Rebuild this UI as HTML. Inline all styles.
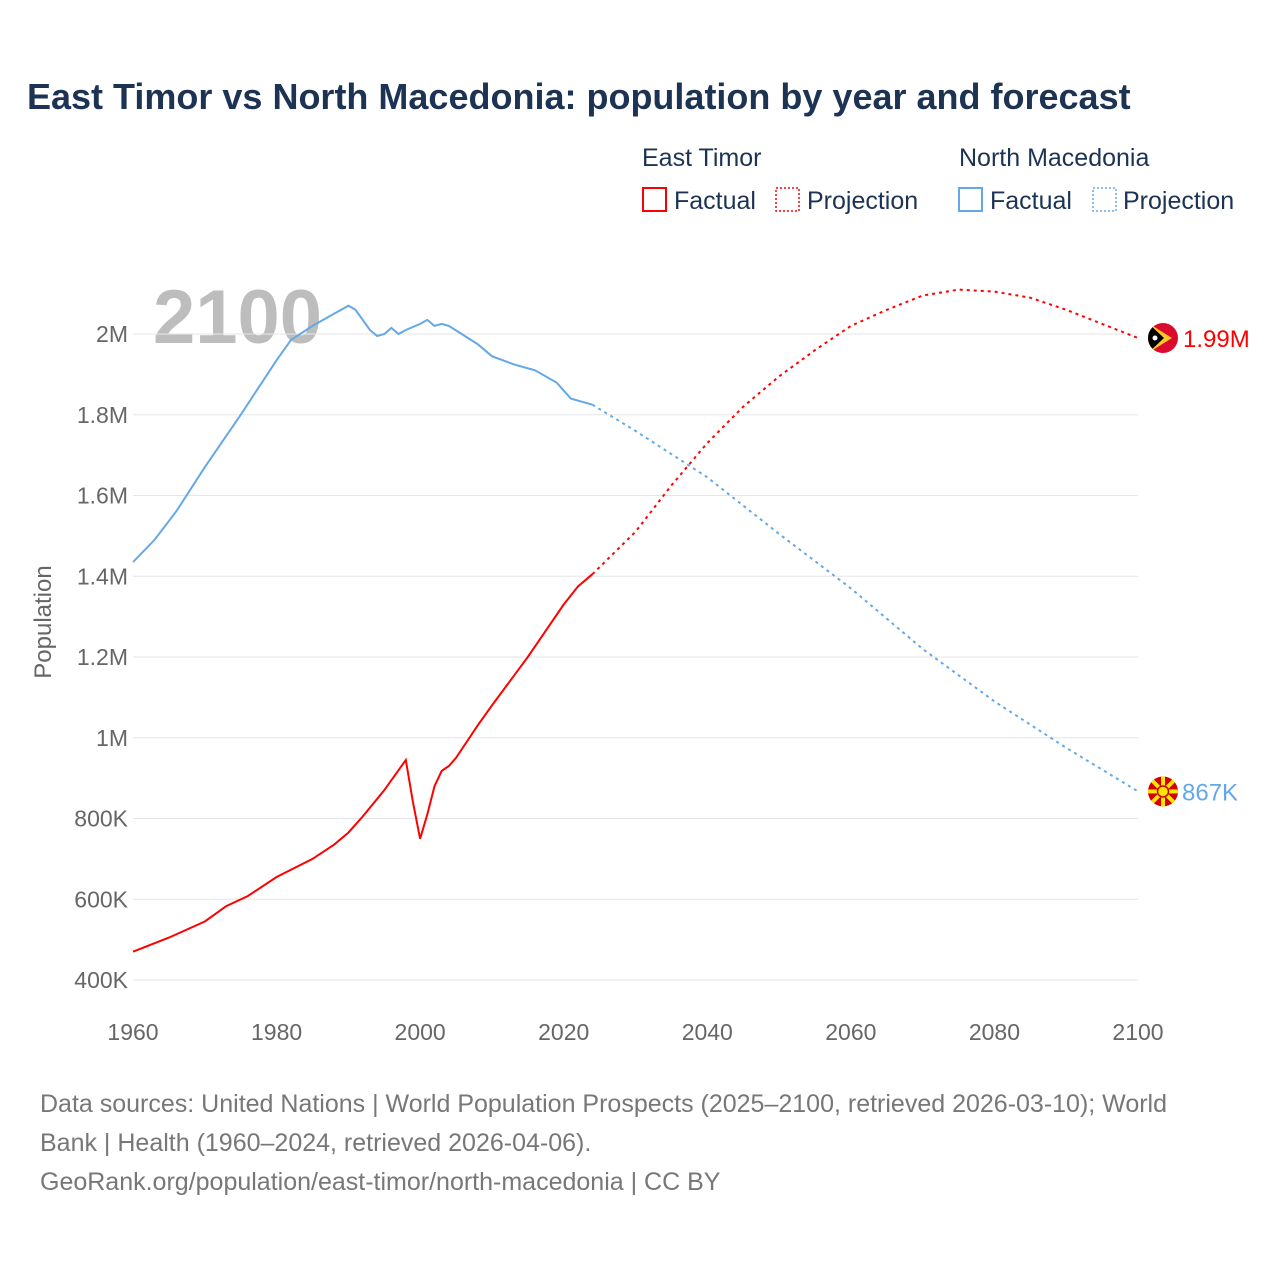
<!DOCTYPE html>
<html><head><meta charset="utf-8"><style>
body{margin:0;background:#fff;font-family:"Liberation Sans",sans-serif}
#wrap{position:relative;width:1280px;height:1280px;overflow:hidden}
</style></head><body>
<div id="wrap">
<svg id="chart" width="1280" height="1280">
<text x="27" y="109" font-size="36" font-weight="bold" fill="#1c3354">East Timor vs North Macedonia: population by year and forecast</text>
<g font-size="25" fill="#1c3354">
<text x="642" y="166">East Timor</text>
<text x="959" y="166">North Macedonia</text>
<g><rect x="643" y="188" width="23" height="23" fill="none" stroke="#f00" stroke-width="2"/><text x="674" y="209">Factual</text></g>
<g><rect x="776" y="188" width="23" height="23" fill="none" stroke="#f00" stroke-width="1.5" stroke-dasharray="2,2"/><text x="807" y="209">Projection</text></g>
<g><rect x="959" y="188" width="23" height="23" fill="none" stroke="#64a8e8" stroke-width="2"/><text x="990" y="209">Factual</text></g>
<g><rect x="1093" y="188" width="23" height="23" fill="none" stroke="#64a8e8" stroke-width="1.5" stroke-dasharray="2,2"/><text x="1123" y="209">Projection</text></g>
</g>
<text x="153" y="343" font-size="76" font-weight="bold" fill="#bdbdbd">2100</text>
<g id="grid"></g><g id="axes"></g><g id="lines"></g>
<text transform="translate(51,622) rotate(-90)" text-anchor="middle" font-size="24" fill="#666">Population</text>
<g id="ends"></g>
<g font-size="25" fill="#777">
<text x="40" y="1112">Data sources: United Nations | World Population Prospects (2025–2100, retrieved 2026-03-10); World</text>
<text x="40" y="1151">Bank | Health (1960–2024, retrieved 2026-04-06).</text>
<text x="40" y="1190">GeoRank.org/population/east-timor/north-macedonia | CC BY</text>
</g>
</svg></div>
<script>
const yTicks=[400000,600000,800000,1000000,1200000,1400000,1600000,1800000,2000000];
const yTickLabels=["400K","600K","800K","1M","1.2M","1.4M","1.6M","1.8M","2M"];
const xTicks=[1960,1980,2000,2020,2040,2060,2080,2100];
const etYears=[1960,1965,1970,1973,1976,1980,1985,1988,1990,1992,1995,1998,1999,2000,2001,2002,2003,2004,2005,2008,2010,2015,2020,2022,2024];
const etValues=[470000,505000,545000,583000,608000,655000,700000,735000,765000,805000,870000,945000,840000,750000,810000,880000,918000,930000,950000,1030000,1080000,1200000,1330000,1375000,1405000];
const etProjYears=[2024,2030,2035,2040,2045,2050,2055,2060,2065,2070,2075,2080,2085,2090,2095,2100];
const etProjValues=[1405000,1510000,1625000,1730000,1820000,1895000,1960000,2020000,2060000,2095000,2110000,2105000,2090000,2060000,2025000,1990000];
const nmYears=[1960,1963,1966,1970,1975,1980,1982,1985,1988,1990,1991,1993,1994,1995,1996,1997,1998,2000,2001,2002,2003,2004,2008,2010,2013,2016,2019,2021,2024];
const nmValues=[1435000,1490000,1560000,1670000,1800000,1935000,1985000,2020000,2050000,2070000,2060000,2010000,1995000,2000000,2015000,2000000,2010000,2025000,2035000,2020000,2025000,2020000,1975000,1945000,1925000,1910000,1880000,1840000,1825000];
const nmProjYears=[2024,2030,2040,2050,2060,2070,2080,2090,2100];
const nmProjValues=[1825000,1760000,1645000,1505000,1370000,1220000,1090000,975000,867000];
const endLabels=["1.99M","867K"];
const NS="http://www.w3.org/2000/svg";
function x(yr){return 133+(yr-1960)*(1138-133)/140;}
function y(v){return 980-(v-400000)*(980-334)/1600000;}
function mk(tag,attrs,parent){const e=document.createElementNS(NS,tag);for(const k in attrs)e.setAttribute(k,attrs[k]);document.getElementById(parent).appendChild(e);return e;}
yTicks.forEach((t,i)=>{
 const l=mk('line',{x1:133,x2:1138,y1:y(t),y2:y(t),stroke:'#e6e6e6','stroke-width':1},'grid');
 
 
 const tx=mk('text',{x:128,y:y(t)+8,'text-anchor':'end','font-size':23,fill:'#666'},'axes');
 tx.textContent=yTickLabels[i];
 
 
});
xTicks.forEach(t=>{
 const tx=mk('text',{x:x(t),y:1040,'text-anchor':'middle','font-size':23,fill:'#666'},'axes');
 tx.textContent=t;
 
 
});
function line(xs,vs,color,dash,name){
 const p=mk('path',{d:xs.map((yr,i)=>(i?'L':'M')+x(yr).toFixed(1)+','+y(vs[i]).toFixed(1)).join(''),fill:'none',stroke:color,'stroke-width':2,'stroke-dasharray':dash},'lines');
 
 
}
line(etYears,etValues,'#f00','none','east-timor-factual-line');
line(etProjYears,etProjValues,'#f00','3,4','east-timor-projection-line');
line(nmYears,nmValues,'#64a8e8','none','north-macedonia-factual-line');
line(nmProjYears,nmProjValues,'#64a8e8','3,4','north-macedonia-projection-line');
// end markers
const ey=y(etProjValues[etProjValues.length-1]), ny=y(nmProjValues[nmProjValues.length-1]);
const ends=document.getElementById('ends');
ends.innerHTML=`<g><clipPath id="c1"><circle cx="1163" cy="${ey}" r="15"/></clipPath><g clip-path="url(#c1)"><rect x="1148" y="${ey-15}" width="30" height="30" fill="#dc0a2d"/><polygon points="1148,${ey-15} 1172,${ey} 1148,${ey+15}" fill="#ffc726"/><polygon points="1148,${ey-15} 1164,${ey} 1148,${ey+15}" fill="#000"/><circle cx="1155" cy="${ey}" r="2.5" fill="#fff"/></g></g>
<g><clipPath id="c2"><circle cx="1163" cy="${ny}" r="15"/></clipPath><g clip-path="url(#c2)"><rect x="1148" y="${ny-15}" width="30" height="30" fill="#d20000"/>${[0,45,90,135].map(a=>`<rect x="1147" y="${ny-2}" width="32" height="4" fill="#ffe600" transform="rotate(${a} 1163 ${ny})"/>`).join('')}<circle cx="1163" cy="${ny}" r="5.5" fill="#ffe600" stroke="#d20000" stroke-width="1.5"/></g></g>
<text x="1183" y="${ey+9}" font-size="24" fill="#f00">${endLabels[0]}</text>
<text x="1182" y="${ny+9}" font-size="24" fill="#64a8e8">${endLabels[1]}</text>`;
</script>
</body></html>
